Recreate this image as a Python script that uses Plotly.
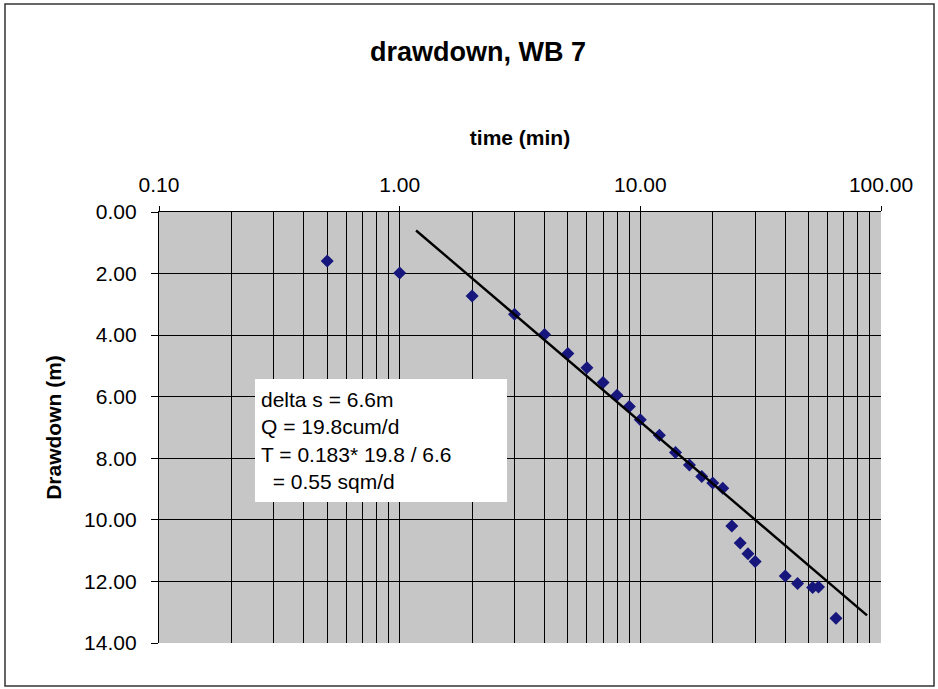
import plotly.graph_objects as go

# ---- data ----
time_min = [0.5, 1, 2, 3, 4, 5, 6, 7, 8, 9, 10, 12, 14, 16, 18, 20, 22, 24, 26, 28, 30, 40, 45, 52, 55, 65]
drawdown_m = [1.59, 1.98, 2.73, 3.32, 3.98, 4.6, 5.06, 5.54, 5.95, 6.32, 6.75, 7.25, 7.81, 8.22, 8.59,
              8.8, 8.97, 10.2, 10.75, 11.1, 11.35, 11.82, 12.07, 12.2, 12.18, 13.2]
fit_time = [1.17, 87.5]
fit_drawdown = [0.6, 13.1]

x_major = [0.1, 1, 10, 100]
x_major_text = ["0.10", "1.00", "10.00", "100.00"]
x_minor = [m * d for d in (0.1, 1, 10) for m in range(2, 10)]
y_ticks = [0, 2, 4, 6, 8, 10, 12, 14]
y_tick_text = ["0.00", "2.00", "4.00", "6.00", "8.00", "10.00", "12.00", "14.00"]

note_lines = ["delta s = 6.6m", "Q = 19.8cum/d", "T = 0.183* 19.8 / 6.6", "\u00a0\u00a0= 0.55 sqm/d"]

FONT = "Liberation Sans, Arial, sans-serif"

fig = go.Figure()
fig.add_trace(go.Scatter(
    x=time_min, y=drawdown_m, mode="markers",
    marker=dict(symbol="diamond", size=10, color="#16167c"),
    showlegend=False))
fig.add_trace(go.Scatter(
    x=fit_time, y=fit_drawdown, mode="lines",
    line=dict(color="black", width=2.4), showlegend=False))

fig.update_layout(
    width=938, height=689,
    margin=dict(l=159, r=57, t=212, b=46),
    paper_bgcolor="white", plot_bgcolor="#c6c6c6",
    font=dict(family=FONT, color="black", size=21),
    title=dict(text="<b>drawdown, WB 7</b>", x=478 / 938, xanchor="center",
               y=1 - 52 / 689, yanchor="middle",
               font=dict(family=FONT, size=27, color="black")),
    xaxis=dict(
        type="log", side="top", range=[-1, 2],
        tickmode="array", tickvals=x_major, ticktext=x_major_text,
        ticks="outside", ticklen=5, tickcolor="black",
        ticklabelstandoff=5,
        showgrid=True, gridcolor="black", gridwidth=1.3,
        minor=dict(tickmode="array", tickvals=x_minor, showgrid=True,
                   gridcolor="black", gridwidth=1.3, ticks=""),
        showline=True, linecolor="black", linewidth=1.3, mirror=False,
        zeroline=False,
        tickfont=dict(size=21),
        title=dict(text="<b>time (min)</b>", font=dict(size=21), standoff=22),
    ),
    yaxis=dict(
        range=[14, 0], tickmode="array", tickvals=y_ticks, ticktext=y_tick_text,
        ticks="outside", ticklen=7, tickcolor="black",
        ticklabelstandoff=10,
        showgrid=True, gridcolor="black", gridwidth=1.3,
        showline=True, linecolor="black", linewidth=1.3, mirror=False,
        zeroline=False,
        tickfont=dict(size=21),
        title=dict(text="<b>Drawdown (m)</b>", font=dict(size=21), standoff=16),
    ),
    shapes=[dict(type="rect", xref="paper", yref="paper",
                 x0=(5 - 159) / 722, x1=(934 - 159) / 722,
                 y0=(643 - 686) / 431, y1=(643 - 4) / 431,
                 line=dict(color="#333333", width=1.5), fillcolor="rgba(0,0,0,0)",
                 layer="below")],
    annotations=[dict(
        text="<br>".join(note_lines), xref="paper", yref="paper",
        x=(255 - 159) / 722, y=(643 - 379) / 431, xanchor="left", yanchor="top",
        showarrow=False, align="left", valign="middle",
        width=240, height=111, borderpad=6, borderwidth=0,
        bgcolor="white", font=dict(family=FONT, size=21, color="black"))],
)

fig.write_html("out.html", config={"displayModeBar": False},
               post_script="document.body.style.margin='0';")
